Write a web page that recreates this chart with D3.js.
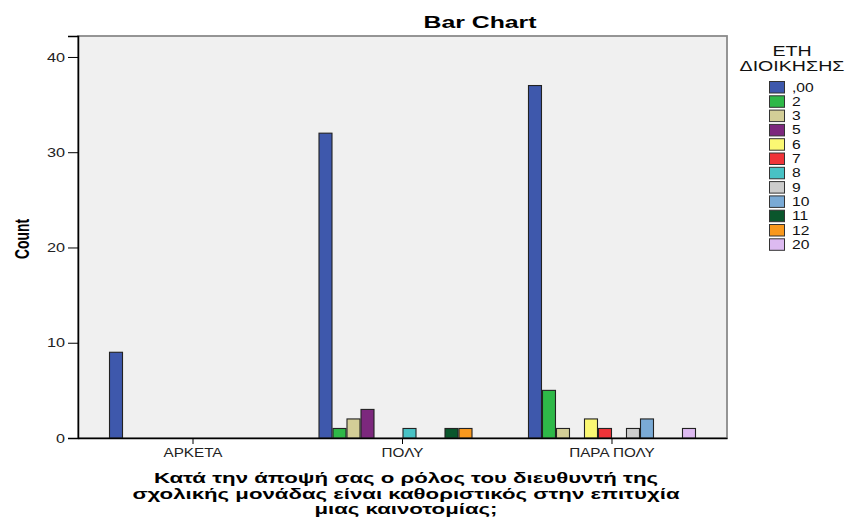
<!DOCTYPE html>
<html><head><meta charset="utf-8">
<script src="https://cdn.jsdelivr.net/npm/d3@7"></script>
<style>body{margin:0;background:#fff}svg{display:block}</style>
</head><body><svg id="c" width="848" height="520"></svg>
<script>
const categories = ["ΑΡΚΕΤΑ", "ΠΟΛΥ", "ΠΑΡΑ ΠΟΛΥ"];
const seriesNames = [",00", "2", "3", "5", "6", "7", "8", "9", "10", "11", "12", "20"];
const seriesColors = ["#3E58AC", "#2EB848", "#D3CE97", "#7C287D", "#FBF873", "#EF3338", "#48C2C5", "#CCCCCC", "#7AAAD5", "#0A562C", "#F8981D", "#DDBAF1"];
const valuesArketa = [9, 0, 0, 0, 0, 0, 0, 0, 0, 0, 0, 0];
const valuesPoly = [32, 1, 2, 3, 0, 0, 1, 0, 0, 1, 1, 0];
const valuesParaPoly = [37, 5, 1, 0, 2, 1, 0, 1, 2, 0, 0, 1];
const yTicks = [0, 10, 20, 30, 40];
const titleText = "Bar Chart";
const yTitle = "Count";
const legendTitle = ["ΕΤΗ", "ΔΙΟΙΚΗΣΗΣ"];
const xTitleLines = ["Κατά την άποψή σας ο ρόλος του διευθυντή της", "σχολικής μονάδας είναι καθοριστικός στην επιτυχία", "μιας καινοτομίας;"];

const groups = [valuesArketa, valuesPoly, valuesParaPoly];
const svg = d3.select("#c");
const L = 78, R = 727, T = 36, B = 438;
const font = "Arial, 'Liberation Sans', sans-serif";

// horizontally widen text (the reference glyphs are wide)
function stretch(sel, f) {
  sel.each(function () {
    const w = this.getComputedTextLength();
    this.setAttribute("textLength", (w * f).toFixed(1));
    this.setAttribute("lengthAdjust", "spacingAndGlyphs");
  });
}

const x0 = d3.scaleBand().domain(categories).range([L, R]).paddingInner(0.198).paddingOuter(0.148);
const x1 = d3.scaleBand().domain(seriesNames).range([0, x0.bandwidth()]);
const y = d3.scaleLinear().domain([0, 42.2]).range([B, T]);
const color = d3.scaleOrdinal().domain(seriesNames).range(seriesColors);

// plot background
svg.append("rect").attr("x", L).attr("y", T).attr("width", R - L).attr("height", B - T)
  .attr("fill", "#F0F0F0").attr("stroke", "#8a8a8a").attr("stroke-width", 1.8);

// bars
categories.forEach((cat, ci) => {
  const g = svg.append("g").attr("transform", `translate(${x0(cat)},0)`);
  g.selectAll("rect").data(seriesNames.map((s, i) => ({s, v: groups[ci][i]})).filter(d => d.v > 0))
    .join("rect")
    .attr("x", d => x1(d.s) + 0.5).attr("width", x1.bandwidth() - 1)
    .attr("y", d => y(d.v)).attr("height", d => y(0) - y(d.v))
    .attr("fill", d => color(d.s)).attr("stroke", "#222").attr("stroke-width", 1.1);
});

// y axis
const yAxis = svg.append("g").attr("transform", `translate(${L},0)`)
  .call(d3.axisLeft(y).tickValues(yTicks).tickSize(10).tickPadding(3).tickFormat(d3.format("d")));
yAxis.select(".domain").attr("stroke", "#000").attr("stroke-width", 1.5);
yAxis.selectAll(".tick line").attr("stroke", "#000");
yAxis.selectAll("text").attr("font-family", font).attr("font-size", 13).attr("fill", "#222");
stretch(yAxis.selectAll("text"), 1.25);

// x axis
const xAxis = svg.append("g").attr("transform", `translate(0,${B})`)
  .call(d3.axisBottom(x0).tickSize(6).tickPadding(4).tickSizeOuter(0));
xAxis.select(".domain").attr("stroke", "#000").attr("stroke-width", 1.5);
xAxis.selectAll(".tick line").attr("stroke", "#000");
xAxis.selectAll("text").attr("font-family", font).attr("font-size", 12).attr("fill", "#222");
stretch(xAxis.selectAll("text"), 1.27);

// title
const tt = svg.append("text").attr("x", 480).attr("y", 28).attr("text-anchor", "middle")
  .attr("font-family", font).attr("font-size", 16).attr("font-weight", "bold").text(titleText);
stretch(tt, 1.55);

// y title (thickened horizontally like the reference)
svg.append("text").attr("transform", "translate(29,239) scale(1.45,1) rotate(-90)").attr("text-anchor", "middle")
  .attr("font-family", font).attr("font-size", 14).attr("font-weight", "bold")
  .attr("textLength", 40).attr("lengthAdjust", "spacingAndGlyphs").text(yTitle);

// x title
xTitleLines.forEach((t, i) => {
  const el = svg.append("text").attr("x", 406).attr("y", 483 + i * 15.5).attr("text-anchor", "middle")
    .attr("font-family", font).attr("font-size", 15).attr("font-weight", "bold").text(t);
  stretch(el, 1.48);
});

// legend
legendTitle.forEach((t, i) => {
  const el = svg.append("text").attr("x", 792).attr("y", 56 + i * 14.5).attr("text-anchor", "middle")
    .attr("font-family", font).attr("font-size", 14).attr("fill", "#111").text(t);
  stretch(el, 1.4);
});
const lg = svg.append("g");
seriesNames.forEach((s, i) => {
  const cy = 87 + i * 14.3;
  lg.append("rect").attr("x", 769.5).attr("y", cy - 5.5).attr("width", 15).attr("height", 11.5)
    .attr("fill", color(s)).attr("stroke", "#333").attr("stroke-width", 1);
  const el = lg.append("text").attr("x", 792).attr("y", cy + 4.5).attr("font-family", font)
    .attr("font-size", 12.5).attr("fill", "#111").text(s);
  stretch(el, 1.25);
});
</script></body></html>
